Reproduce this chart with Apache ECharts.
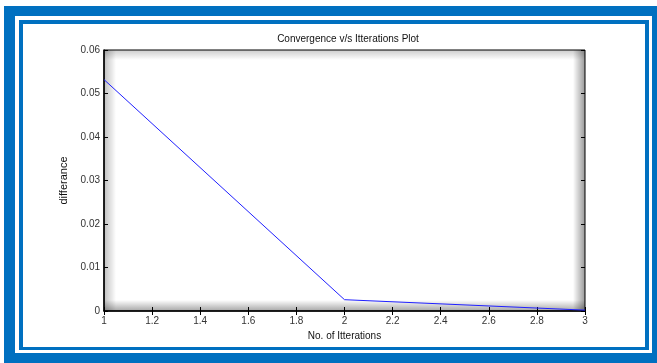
<!DOCTYPE html>
<html>
<head>
<meta charset="utf-8">
<script src="https://cdn.jsdelivr.net/npm/echarts@6/dist/echarts.min.js"></script>
<style>
  html, body { margin: 0; padding: 0; background: #fff; }
  #chart { width: 657px; height: 363px; }
</style>
</head>
<body>
<div id="chart"></div>
<script>
// data
const iterations = [1, 2, 3];
const difference = [0.0532, 0.0026, 0.0002];
const xTicks = [1, 1.2, 1.4, 1.6, 1.8, 2, 2.2, 2.4, 2.6, 2.8, 3];
const yTicks = [0, 0.01, 0.02, 0.03, 0.04, 0.05, 0.06];

const BLUE = '#0070c0';
const FONT = 'Liberation Sans, Arial, sans-serif';

const myChart = echarts.init(document.getElementById('chart'));

// plot box in pixels
const G = { left: 104, top: 50, width: 481, height: 261 };

function shade(x, y, w, h, x0, y0, x1, y1, a) {
    return {
        type: 'rect',
        z: 0,
        silent: true,
        shape: { x: x, y: y, width: w, height: h },
        style: {
            fill: new echarts.graphic.LinearGradient(x0, y0, x1, y1, [
                { offset: 0, color: 'rgba(0,0,0,' + a + ')' },
                { offset: 1, color: 'rgba(0,0,0,0)' }
            ])
        }
    };
}

const pts = iterations.map((v, i) => [v, difference[i]]);

const tickLabel = { color: '#333', fontFamily: FONT, fontSize: 10 };

let option = {
    animation: false,
    title: {
        text: 'Convergence v/s Itterations Plot',
        left: 343,
        top: 29,
        textAlign: 'center',
        textStyle: { fontFamily: FONT, fontSize: 10, fontWeight: 'normal', color: '#111' }
    },
    graphic: [
        // frame
        { type: 'rect', z: -10, shape: { x: 4, y: 6, width: 653, height: 357 }, style: { fill: BLUE } },
        { type: 'rect', z: -9, shape: { x: 15, y: 16, width: 637, height: 337 }, style: { fill: '#fff' } },
        { type: 'rect', z: -8, shape: { x: 19, y: 20, width: 630, height: 330 }, style: { fill: BLUE } },
        { type: 'rect', z: -7, shape: { x: 23, y: 24, width: 622, height: 323 }, style: { fill: '#fff' } },
        // inner shading of the plot box
        shade(G.left, G.top, 12, G.height, 0, 0, 1, 0, 0.25),
        shade(G.left + G.width - 12, G.top, 12, G.height, 1, 0, 0, 0, 0.4),
        shade(G.left, G.top, G.width, 10, 0, 0, 0, 1, 0.2),
        shade(G.left, G.top + G.height - 11, G.width, 11, 0, 1, 0, 0, 0.35)
    ],
    grid: {
        left: G.left,
        top: G.top,
        width: G.width,
        height: G.height,
        show: true,
        borderColor: '#000',
        borderWidth: 1,
        backgroundColor: 'transparent'
    },
    xAxis: [
        {
            type: 'value',
            min: 1,
            max: 3,
            interval: 0.2,
            name: 'No. of Itterations',
            nameLocation: 'middle',
            nameGap: 20,
            nameTextStyle: { fontFamily: FONT, fontSize: 10, color: '#111' },
            axisLine: { lineStyle: { color: '#000', width: 1.5 } },
            axisTick: { inside: true, length: 4, lineStyle: { color: '#000' } },
            axisLabel: Object.assign({ margin: 5, formatter: v => String(parseFloat(v.toFixed(1))) }, tickLabel),
            splitLine: { show: false }
        },
        {
            type: 'value',
            position: 'top',
            min: 1,
            max: 3,
            interval: 0.2,
            axisLine: { show: false },
            axisTick: { inside: true, length: 4, lineStyle: { color: '#000' } },
            axisLabel: { show: false },
            splitLine: { show: false }
        }
    ],
    yAxis: [
        {
            type: 'value',
            min: 0,
            max: 0.06,
            interval: 0.01,
            name: 'differance',
            nameLocation: 'middle',
            nameGap: 31,
            nameTextStyle: { fontFamily: FONT, fontSize: 11, color: '#111' },
            axisLine: { show: true, lineStyle: { color: '#000', width: 1.5 } },
            axisTick: { show: true, inside: true, length: 4, lineStyle: { color: '#000' } },
            axisLabel: Object.assign({ margin: 4, formatter: v => v === 0 ? '0' : v.toFixed(2) }, tickLabel),
            splitLine: { show: false }
        },
        {
            type: 'value',
            position: 'right',
            min: 0,
            max: 0.06,
            interval: 0.01,
            axisLine: { show: false },
            axisTick: { show: true, inside: true, length: 4, lineStyle: { color: '#000' } },
            axisLabel: { show: false },
            splitLine: { show: false }
        }
    ],
    series: [
        {
            type: 'line',
            z: 3,
            data: pts,
            symbol: 'none',
            lineStyle: { color: '#2020ff', width: 1 }
        }
    ]
};

myChart.setOption(option);
</script>
</body>
</html>
